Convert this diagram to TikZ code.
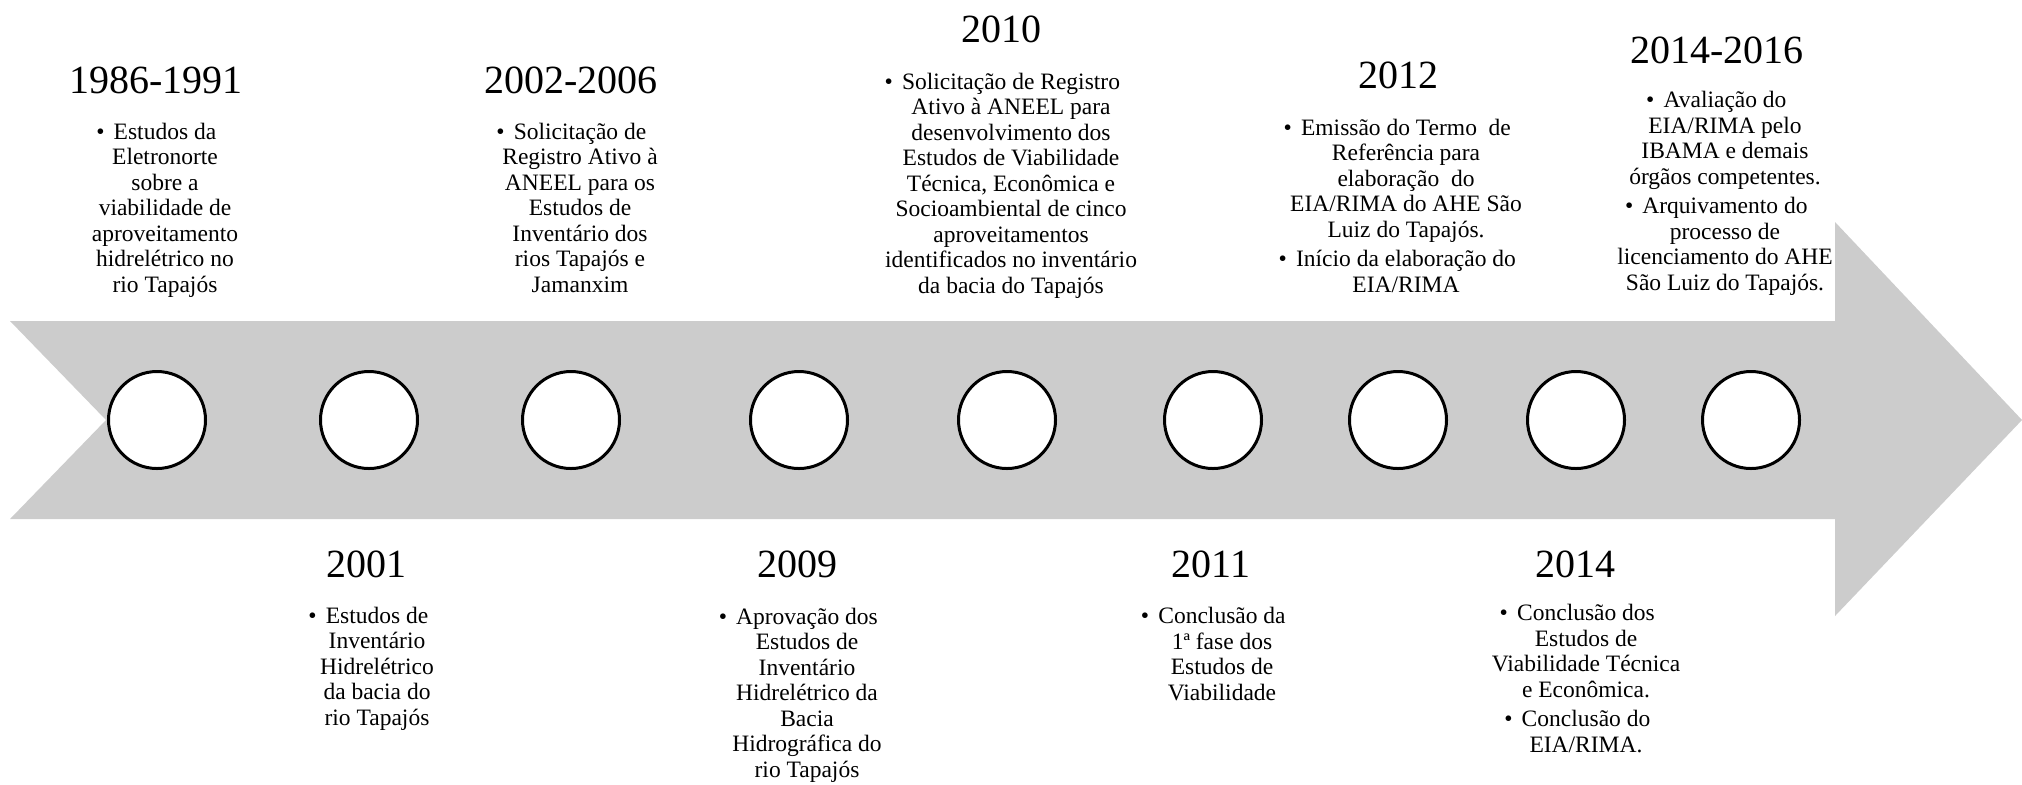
\documentclass[tikz,border=0pt]{standalone}
\usepackage{fontspec}
\setmainfont{Liberation Serif}
\usepackage{tikz}
\definecolor{arrowgray}{HTML}{CCCCCC}
\newcommand{\bul}{\llap{\textbullet\hspace{4.6pt}}}

\begin{document}
\begin{tikzpicture}[x=0.5pt, y=-0.5pt,
  year/.style={anchor=base, inner sep=0pt, font={\fontsize{20}{24}\selectfont}},
  info/.style={anchor=base, inner sep=0pt, align=center, font={\fontsize{11.75}{12.75}\selectfont}},
  milestone/.style={circle, draw=black, line width=1.5pt, fill=white, minimum size=48.5pt, inner sep=0pt}]
\useasboundingbox (0,0) rectangle (2022,784);

% the grey arrow
\fill[arrowgray] (10,321) -- (1835,321) -- (1835,222) -- (2022,420) -- (1835,616) -- (1835,519) -- (10,519) -- (106,420) -- cycle;

\node[milestone] (m1986) at (157,420) {};
\node[milestone] (m2001) at (369,420) {};
\node[milestone] (m2002) at (571,420) {};
\node[milestone] (m2009) at (799,420) {};
\node[milestone] (m2010) at (1007,420) {};
\node[milestone] (m2011) at (1213,420) {};
\node[milestone] (m2012) at (1398,420) {};
\node[milestone] (m2014) at (1576,420) {};
\node[milestone] (m2016) at (1751,420) {};

% above the arrow (info nodes sit on their last line)
\node[year] (y1986) at (156,93) {1986-1991};
\node[info] (t1986) at (165,292) {\bul Estudos da\\Eletronorte\\sobre a\\viabilidade de\\aproveitamento\\hidrelétrico no\\rio Tapajós};

\node[year] (y2002) at (571,93) {2002-2006};
\node[info] (t2002) at (580,292) {\bul Solicitação de\\Registro Ativo à\\ANEEL para os\\Estudos de\\Inventário dos\\rios Tapajós e\\Jamanxim};

\node[year] (y2010) at (1001,42) {2010};
\node[info] (t2010) at (1011,293) {\bul Solicitação de Registro\\Ativo à ANEEL para\\desenvolvimento dos\\Estudos de Viabilidade\\Técnica, Econômica e\\Socioambiental de cinco\\aproveitamentos\\identificados no inventário\\da bacia do Tapajós};

\node[year] (y2012) at (1398,88) {2012};
\node[info] (t2012) at (1406,292) {\bul Emissão do Termo\ \ de\\Referência para\\elaboração\ \ do\\EIA/RIMA do AHE São\\Luiz do Tapajós.\\[1.8pt]\bul Início da elaboração do\\EIA/RIMA};

\node[year] (y2016) at (1717,63) {2014-2016};
\node[info] (t2016) at (1725,290) {\bul Avaliação do\\EIA/RIMA pelo\\IBAMA e demais\\órgãos competentes.\\[1.8pt]\bul Arquivamento do\\processo de\\licenciamento do AHE\\São Luiz do Tapajós.};

% below the arrow
\node[year] (y2001) at (366,577) {2001};
\node[info] (t2001) at (377,725) {\bul Estudos de\\Inventário\\Hidrelétrico\\da bacia do\\rio Tapajós};

\node[year] (y2009) at (797,577) {2009};
\node[info] (t2009) at (807,777) {\bul Aprovação dos\\Estudos de\\Inventário\\Hidrelétrico da\\Bacia\\Hidrográfica do\\rio Tapajós};

\node[year] (y2011) at (1211,577) {2011};
\node[info] (t2011) at (1222,700) {\bul Conclusão da\\1ª fase dos\\Estudos de\\Viabilidade};

\node[year] (y2014) at (1575,577) {2014};
\node[info] (t2014) at (1586,752) {\bul Conclusão dos\\Estudos de\\Viabilidade Técnica\\e Econômica.\\[1.8pt]\bul Conclusão do\\EIA/RIMA.};
\end{tikzpicture}
\end{document}
